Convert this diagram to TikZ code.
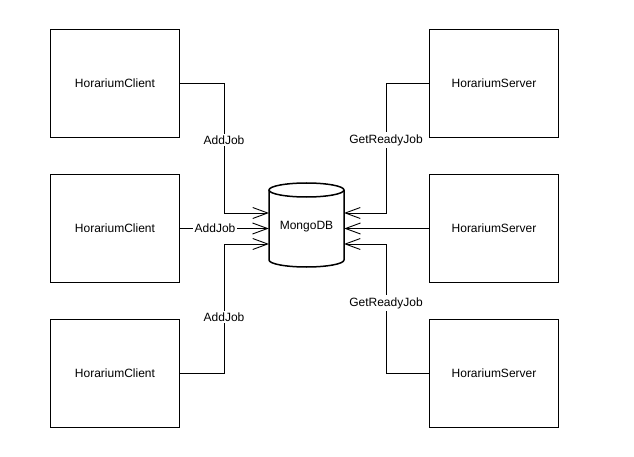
\documentclass[tikz,border=0pt]{standalone}
\usepackage{fontspec}
\setmainfont{Liberation Sans}
\usetikzlibrary{arrows.meta}
\begin{document}
\begin{tikzpicture}[x=1pt,y=-1pt,
  box/.style={draw,line width=1.5pt,minimum width=129pt,minimum height=108pt,inner sep=0pt,font=\fontsize{12}{14}\selectfont},
  conn/.style={line width=0.9pt,-{Straight Barb[length=15pt,width=11pt,line width=0.9pt]}},
  lbl/.style={fill=white,inner sep=2pt,font=\fontsize{12}{14}\selectfont}]
\useasboundingbox (0,0) rectangle (634,457);
\node[box] (c1) at (115,83.5) {HorariumClient};
\node[box] (c2) at (115,228.5) {HorariumClient};
\node[box] (c3) at (115,373.5) {HorariumClient};
\node[box] (s1) at (494,83.5) {HorariumServer};
\node[box] (s2) at (494,228.5) {HorariumServer};
\node[box] (s3) at (494,373.5) {HorariumServer};
% database cylinder
\node[minimum width=75pt,minimum height=84pt,inner sep=0pt,font=\fontsize{12}{14}\selectfont] (db) at (306.5,227) {MongoDB};
\draw[line width=1.5pt] (306.5,190) ellipse[x radius=37.5,y radius=7];
\draw[line width=1.5pt] (269,190) -- (269,260) arc[start angle=180,end angle=0,x radius=37.5,y radius=7] -- (344,190);
\coordinate (l1) at (269,213);
\coordinate (l3) at (269,244);
\coordinate (r1) at (344,213);
\coordinate (r3) at (344,244);
\coordinate (lx) at (224,0);
\coordinate (rx) at (386,0);
\draw[conn] (c1.east) -| (lx |- l1) -- (l1);
\draw[conn] (c2.east) -- (db.west |- c2.east);
\draw[conn] (c3.east) -| (lx |- l3) -- (l3);
\draw[conn] (s1.west) -| (rx |- r1) -- (r1);
\draw[conn] (s2.west) -- (db.east |- s2.west);
\draw[conn] (s3.west) -| (rx |- r3) -- (r3);
\node[lbl] (a1) at (224,140) {AddJob};
\node[lbl] (a2) at (215,228.5) {AddJob};
\node[lbl] (a3) at (224,317) {AddJob};
\node[lbl] (g1) at (386,140) {GetReadyJob};
\node[lbl] (g3) at (386,303) {GetReadyJob};
\end{tikzpicture}
\end{document}
